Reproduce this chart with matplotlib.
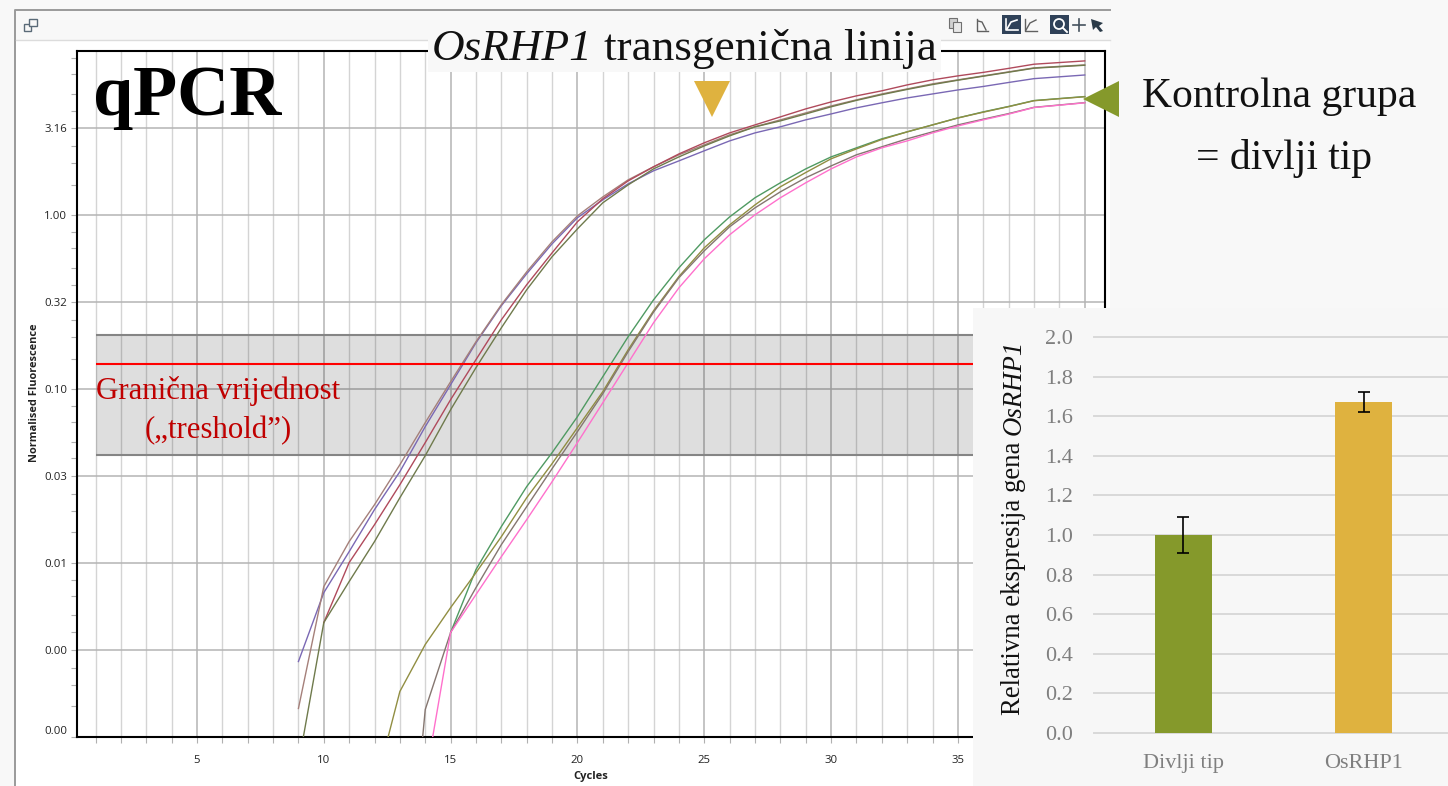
import matplotlib
matplotlib.use("Agg")
import matplotlib.pyplot as plt
from matplotlib.patches import Polygon, Rectangle
from matplotlib.ticker import FixedLocator, NullFormatter
import numpy as np

plt.rcParams["font.family"] = ["Liberation Serif", "DejaVu Serif"]

W, H = 1448, 786
nan = float("nan")

# qPCR curves, log10 of normalised fluorescence per cycle
cycles = list(range(9, 39)) + [40]
purple = [-2.566, -2.170, -1.934, -1.692, -1.474, -1.215, -0.974, -0.733, -0.520, -0.336, -0.164,
          -0.014, 0.089, 0.181, 0.256, 0.313, 0.371, 0.428, 0.474, 0.509, 0.549, 0.583, 0.618,
          0.647, 0.675, 0.698, 0.721, 0.741, 0.764, 0.786, 0.807]
brown = [-2.836, -2.135, -1.876, -1.664, -1.434, -1.192, -0.957, -0.727, -0.514, -0.325, -0.152,
         -0.003, 0.106, 0.204, 0.279, 0.348, 0.405, 0.463, 0.509, 0.549, 0.589, 0.629, 0.664,
         0.698, 0.727, 0.756, 0.779, 0.802, 0.825, 0.848, 0.865]
red = [nan, -2.342, -1.997, -1.779, -1.549, -1.307, -1.060, -0.830, -0.601, -0.399, -0.216,
       -0.037, 0.095, 0.198, 0.279, 0.353, 0.417, 0.474, 0.520, 0.566, 0.612, 0.652, 0.687,
       0.716, 0.750, 0.779, 0.802, 0.822, 0.845, 0.869, 0.888]
dark_olive = [-3.158, -2.342, -2.106, -1.876, -1.624, -1.382, -1.118, -0.876, -0.647, -0.428,
              -0.238, -0.078, 0.072, 0.175, 0.267, 0.336, 0.399, 0.457, 0.509, 0.543, 0.583,
              0.624, 0.661, 0.694, 0.724, 0.752, 0.777, 0.800, 0.823, 0.846, 0.863]
green = [nan] * 6 + [-2.399, -2.037, -1.790, -1.560, -1.365, -1.158, -0.928, -0.698, -0.486,
                     -0.302, -0.141, -0.009, 0.101, 0.187, 0.267, 0.336, 0.388, 0.440, 0.480,
                     0.520, 0.560, 0.595, 0.626, 0.660, 0.683]
olive = [nan] * 3 + [-3.302, -2.738, -2.468, -2.256, -2.055, -1.848, -1.624, -1.428, -1.221,
                     -1.014, -0.773, -0.549, -0.352, -0.187, -0.055, 0.060, 0.164, 0.246, 0.325,
                     0.382, 0.436, 0.480, 0.520, 0.560, 0.593, 0.625, 0.659, 0.682]
grey = [nan] * 4 + [-4.394, -2.842, -2.399, -2.141, -1.894, -1.675, -1.457, -1.244, -1.026,
                    -0.784, -0.557, -0.359, -0.204, -0.066, 0.043, 0.135, 0.216, 0.284, 0.348,
                    0.394, 0.440, 0.480, 0.520, 0.553, 0.585, 0.621, 0.648]
pink = [nan] * 5 + [-3.250, -2.399, -2.181, -1.963, -1.750, -1.532, -1.307, -1.078, -0.848,
                    -0.618, -0.417, -0.250, -0.112, 0.003, 0.101, 0.187, 0.267, 0.336, 0.388,
                    0.428, 0.474, 0.514, 0.549, 0.582, 0.620, 0.647]
curves = [purple, brown, red, dark_olive, green, olive, grey, pink]
curve_colors = ["#7a68b4", "#a5807a", "#b04a5c", "#6f7a4c", "#4f9a62", "#918e42", "#857670", "#ff70cc"]

y_ticks = [3.16, 1.00, 0.316, 0.10, 0.0316, 0.01, 0.00316, 0.001]
y_tick_labels = ["3.16", "1.00", "0.32", "0.10", "0.03", "0.01", "0.00", "0.00"]
x_ticks = [5, 10, 15, 20, 25, 30, 35, 40]
threshold = 0.14
band_low, band_high = 0.042, 0.2056

# bar inset
groups = ["Divlji tip", "OsRHP1"]
expression = [1.0, 1.67]
expression_err = [0.09, 0.05]
bar_colors = ["#85992b", "#dfb23f"]
bar_ticks = [0.0, 0.2, 0.4, 0.6, 0.8, 1.0, 1.2, 1.4, 1.6, 1.8, 2.0]


def box(x0, y0, x1, y1):
    return [x0 / W, 1 - y1 / H, (x1 - x0) / W, (y1 - y0) / H]


fig = plt.figure(figsize=(W / 100, H / 100), dpi=100, facecolor="#f8f8f8")

# window behind the plot
back = fig.add_axes([0, 0, 1, 1], zorder=0)
back.set_xlim(0, W)
back.set_ylim(H, 0)
back.axis("off")
back.add_patch(Rectangle((15, 10), 1095, 780, fc="white", ec="none"))
back.add_patch(Rectangle((16, 11), 1094, 29, fc="#f8f8f8", ec="none"))
back.plot([15, 15, 1110], [790, 10, 10], color="#9a9a9a", lw=1.4)
back.plot([16, 1110], [40, 40], color="#dcdcdc", lw=1)

# main amplification plot
ax = fig.add_axes(box(77, 51, 1105, 737), zorder=1)
ax.set_facecolor("white")
ax.set_yscale("log")
ax.set_xlim(0.27, 40.8)
ax.set_ylim(0.001, 8.81)
ax.xaxis.set_major_locator(FixedLocator(x_ticks))
ax.xaxis.set_minor_locator(FixedLocator([c for c in range(1, 41) if c % 5]))
ax.yaxis.set_major_locator(FixedLocator(y_ticks))
ax.yaxis.set_minor_locator(FixedLocator([m * 10.0 ** e for e in range(-3, 1) for m in (1.5, 2, 2.5, 4, 5, 6.5, 8)]))
ax.yaxis.set_minor_formatter(NullFormatter())
ax.set_yticklabels(y_tick_labels)
ax.grid(True, which="major", color="#b4b4b4", lw=1.1)
ax.grid(True, which="minor", axis="x", color="#d4d4d4", lw=1.0)
ax.set_axisbelow(True)
ax.tick_params(which="both", color="#b0b0b0", length=4, width=0.8)
ax.tick_params(axis="both", which="major", labelsize=8.2, labelcolor="#222222", pad=3)
ax.tick_params(axis="x", which="major", pad=9)
for lab in ax.get_xticklabels() + ax.get_yticklabels():
    lab.set_family(["Open Sans", "DejaVu Sans"])
ax.get_yticklabels()[-1].set_verticalalignment("bottom")
for side in ax.spines.values():
    side.set_linewidth(1.5)
    side.set_color("black")

ax.fill_between([1.0, 40.0], band_low, band_high, color="black", alpha=0.13, lw=0, zorder=2)
ax.hlines([band_low, band_high], 1.0, 40.0, color="#858585", lw=1.5, zorder=2.5)
for vals, col in zip(curves, curve_colors):
    ax.plot(cycles, 10 ** np.array(vals), color=col, lw=1.0, zorder=3)
ax.hlines(threshold, 1.0, 40.0, color="#ff0000", lw=1.5, zorder=4)

# annotations in pixel coordinates
over = fig.add_axes([0, 0, 1, 1], zorder=2)
over.set_xlim(0, W)
over.set_ylim(H, 0)
over.axis("off")
over.patch.set_alpha(0)
sans = ["Open Sans", "DejaVu Sans"]
over.text(591, 776, "Cycles", family=sans, fontsize=8, fontweight="bold", ha="center", va="center", color="#222222")
over.text(35, 393, "Normalised Fluorescence", family=sans, fontsize=7.9, fontweight="bold",
          rotation=90, ha="center", va="center", color="#222222")
over.text(93, 97, "qPCR", fontsize=52, fontweight="bold", ha="left", va="center", color="black")
over.add_patch(Rectangle((428, 17), 513, 55, fc="#f8f8f8", ec="none"))
over.text(592, 60, "OsRHP1", fontsize=32.6, style="italic", ha="right", va="baseline", color="#111111")
over.text(604, 60, "transgenična linija", fontsize=32.6, ha="left", va="baseline", color="#111111")
over.add_patch(Polygon([(694, 81), (730, 81), (712, 117)], fc="#dfb23f", ec="none"))
over.add_patch(Polygon([(1083, 99), (1119, 81), (1119, 117)], fc="#85992b", ec="none"))
over.text(1279, 97, "Kontrolna grupa", fontsize=30, ha="center", va="center", color="#111111")
over.text(1284, 159, "= divlji tip", fontsize=30, ha="center", va="center", color="#111111")
over.text(218, 391, "Granična vrijednost", fontsize=22.2, ha="center", va="center", color="#c00000")
over.text(218, 431, "(„treshold”)", fontsize=22.2, ha="center", va="center", color="#c00000")

# toolbar icons
dark = "#2f4158"
over.add_patch(Rectangle((24, 24), 7, 7, fc="none", ec="#5a6a78", lw=1))
over.add_patch(Rectangle((29, 19), 8, 7, fc="#f8f8f8", ec="#5a6a78", lw=1))
over.add_patch(Rectangle((949, 18), 8, 10, fc="#d0d0d0", ec="#707070", lw=0.8))
over.add_patch(Rectangle((953, 22), 8, 10, fc="#e8e8e8", ec="#707070", lw=0.8))
over.plot([977, 977, 988], [19, 31, 31], color="#606060", lw=1)
over.plot([978, 982, 986], [21, 22, 30], color="#606060", lw=1)
over.add_patch(Rectangle((1002, 15), 19, 19, fc=dark, ec="none"))
over.plot([1006, 1006, 1018], [19, 30, 30], color="white", lw=1.2)
over.plot([1007, 1011, 1017], [29, 22, 20], color="white", lw=1.2)
over.plot([1025, 1025, 1037], [19, 31, 31], color="#606060", lw=1)
over.plot([1026, 1030, 1036], [30, 23, 20], color="#606060", lw=1)
over.add_patch(Rectangle((1050, 15), 19, 19, fc=dark, ec="none"))
over.add_patch(plt.Circle((1059, 24), 5, fc="none", ec="white", lw=1.3))
over.plot([1063, 1067], [28, 32], color="white", lw=1.4)
over.plot([1073, 1085], [25, 25], color="#45525e", lw=1.2)
over.plot([1079, 1079], [19, 31], color="#45525e", lw=1.2)
over.add_patch(Polygon([(1091, 19), (1103, 23), (1099, 26), (1103, 31), (1100, 32), (1096, 27), (1093, 30)],
                       fc="#2a3a48", ec="none"))

# bar chart inset with its grey panel
panel = fig.add_axes(box(973, 308, 1448, 786), zorder=3)
panel.set_facecolor("#f7f7f7")
panel.set_xticks([])
panel.set_yticks([])
for side in panel.spines.values():
    side.set_visible(False)

bx = fig.add_axes(box(1094, 337, 1448, 733), zorder=4)
bx.patch.set_alpha(0)
bx.bar(range(len(groups)), expression, width=0.317, color=bar_colors, zorder=3)
bx.errorbar(range(len(groups)), expression, yerr=expression_err, fmt="none", ecolor="black",
            elinewidth=1.2, capsize=4.5, capthick=1.2, zorder=4)
bx.set_xlim(-0.497, 1.469)
bx.set_ylim(0, 2.0)
bx.set_yticks(bar_ticks)
bx.set_yticklabels([f"{t:.1f}" for t in bar_ticks])
bx.set_xticks(range(len(groups)))
bx.set_xticklabels(groups)
bx.grid(True, axis="y", color="#d9d9d9", lw=1.4, zorder=0, clip_on=False)
bx.set_axisbelow(True)
bx.tick_params(axis="both", length=0, labelsize=16, labelcolor="#7f7f7f")
bx.tick_params(axis="y", pad=15)
bx.tick_params(axis="x", pad=15)
for side in bx.spines.values():
    side.set_visible(False)

# y label in two pieces, gene name in italics
fig.text(1014 / W, 1 - 715 / H, "Relativna ekspresija gena", fontsize=19.3, rotation=90,
         ha="center", va="bottom", color="#111111", zorder=5)
fig.text(1014 / W, 1 - 340 / H, "OsRHP1", fontsize=19.3, style="italic", rotation=90,
         ha="center", va="top", color="#111111", zorder=5)

fig.savefig("out.png", dpi=100)
